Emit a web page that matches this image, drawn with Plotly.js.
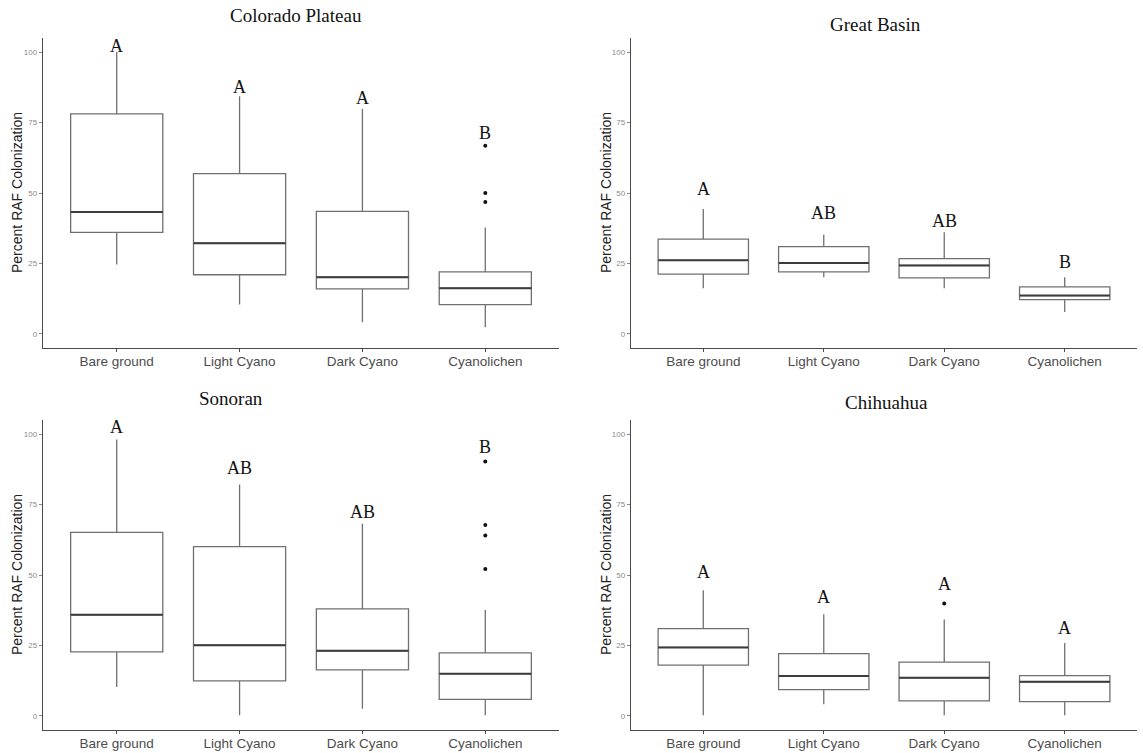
<!DOCTYPE html>
<html>
<head>
<meta charset="utf-8">
<script src="https://cdn.plot.ly/plotly-3.0.1.min.js"></script>
<style>html,body{margin:0;padding:0;background:#fff;}#chart{width:1143px;height:753px;}</style>
</head>
<body>
<div id="chart"></div>
<script>
// ---- data ----
const categories = ["Bare ground", "Light Cyano", "Dark Cyano", "Cyanolichen"];
const panelTitles = ["Colorado Plateau", "Great Basin", "Sonoran", "Chihuahua"];

// Colorado Plateau
const cpLow  = [24.6, 10.4, 4.1, 2.4];
const cpQ1   = [36.0, 21.0, 16.0, 10.4];
const cpMed  = [43.3, 32.2, 20.1, 16.2];
const cpQ3   = [78.1, 56.9, 43.5, 22.0];
const cpHigh = [100.0, 84.3, 79.9, 37.8];
const cpOutX = ["Cyanolichen", "Cyanolichen", "Cyanolichen"];
const cpOutY = [66.8, 50.0, 46.8];
const cpLetters = ["A", "A", "A", "B"];
const cpLetterY = [102.0, 87.5, 83.6, 71.3];

// Great Basin
const gbLow  = [16.2, 20.1, 16.2, 7.8];
const gbQ1   = [21.2, 22.0, 19.9, 12.2];
const gbMed  = [26.1, 25.2, 24.3, 13.6];
const gbQ3   = [33.6, 31.0, 26.7, 16.7];
const gbHigh = [44.3, 35.2, 36.1, 20.1];
const gbOutX = [];
const gbOutY = [];
const gbLetters = ["A", "AB", "AB", "B"];
const gbLetterY = [51.4, 42.9, 40.2, 25.6];

// Sonoran
const soLow  = [10.3, 0.2, 2.5, 0.2];
const soQ1   = [22.7, 12.4, 16.3, 5.9];
const soMed  = [35.9, 25.1, 23.1, 15.0];
const soQ3   = [65.1, 60.1, 38.0, 22.4];
const soHigh = [98.1, 82.1, 68.2, 37.6];
const soOutX = ["Cyanolichen", "Cyanolichen", "Cyanolichen", "Cyanolichen"];
const soOutY = [90.3, 67.7, 64.0, 52.1];
const soLetters = ["A", "AB", "AB", "B"];
const soLetterY = [102.4, 87.9, 72.4, 95.5];

// Chihuahua
const chLow  = [0.2, 4.1, 0.2, 0.2];
const chQ1   = [18.0, 9.3, 5.3, 5.1];
const chMed  = [24.3, 14.2, 13.5, 12.1];
const chQ3   = [31.0, 22.1, 19.1, 14.3];
const chHigh = [44.6, 36.1, 34.2, 25.9];
const chOutX = ["Dark Cyano"];
const chOutY = [39.9];
const chLetters = ["A", "A", "A", "A"];
const chLetterY = [50.9, 42.2, 46.9, 31.2];

const yTickVals = [0, 25, 50, 75, 100];
const yTitle = "Percent RAF Colonization";

// ---- build ----
const panels = [
  {low: cpLow, q1: cpQ1, med: cpMed, q3: cpQ3, high: cpHigh, ox: cpOutX, oy: cpOutY, let: cpLetters, ly: cpLetterY},
  {low: gbLow, q1: gbQ1, med: gbMed, q3: gbQ3, high: gbHigh, ox: gbOutX, oy: gbOutY, let: gbLetters, ly: gbLetterY},
  {low: soLow, q1: soQ1, med: soMed, q3: soQ3, high: soHigh, ox: soOutX, oy: soOutY, let: soLetters, ly: soLetterY},
  {low: chLow, q1: chQ1, med: chMed, q3: chQ3, high: chHigh, ox: chOutX, oy: chOutY, let: chLetters, ly: chLetterY}
];

const W = 1143, H = 753;
const xDomains = [[43/W, 559/W], [631/W, 1137/W], [43/W, 559/W], [631/W, 1137/W]];
const yDomains = [[1-348/H, 1-38/H], [1-348/H, 1-38/H], [1-730/H, 1-420/H], [1-730/H, 1-420/H]];
const titlePos = [[296/W, 1-16/H], [875/W, 1-25/H], [231/W, 1-398/H], [886/W, 1-402/H]];
const yTitlePos = [[17/W, 1-193/H], [606/W, 1-193/H], [17/W, 1-575/H], [606/W, 1-575/H]];

const traces = [];
const annotations = [];
const layout = {
  width: W, height: H,
  margin: {l: 0, r: 0, t: 0, b: 0},
  paper_bgcolor: "#fff", plot_bgcolor: "#fff",
  showlegend: false,
  boxmode: "overlay",
  hovermode: false,
  font: {family: "Liberation Sans, Arial, sans-serif"}
};

panels.forEach((p, i) => {
  const n = i + 1;
  const xa = n === 1 ? "x" : "x" + n;
  const ya = n === 1 ? "y" : "y" + n;
  traces.push({
    type: "box", xaxis: xa, yaxis: ya,
    x: categories, q1: p.q1, median: p.med, q3: p.q3,
    lowerfence: p.low, upperfence: p.high,
    width: 0.75, boxpoints: false,
    fillcolor: "#ffffff",
    line: {color: "#707070", width: 1.3},
    whiskerwidth: 0
  });
  traces.push({
    type: "box", xaxis: xa, yaxis: ya,
    x: categories, q1: p.med, median: p.med, q3: p.med,
    lowerfence: p.med, upperfence: p.med,
    width: 0.75, boxpoints: false,
    fillcolor: "rgba(0,0,0,0)",
    line: {color: "#3c3c3c", width: 2},
    whiskerwidth: 0
  });
  if (p.ox.length) {
    traces.push({
      type: "scatter", mode: "markers", xaxis: xa, yaxis: ya,
      x: p.ox, y: p.oy,
      marker: {color: "#111", size: 4}
    });
  }
  const axKey = n === 1 ? "" : n;
  layout["xaxis" + axKey] = {
    domain: xDomains[i], anchor: ya,
    type: "category", categoryorder: "array", categoryarray: categories,
    range: [-0.6, 3.6],
    showline: true, linecolor: "#4a4a4a", linewidth: 1.2,
    ticks: "outside", ticklen: 3, tickcolor: "#4a4a4a", tickwidth: 1,
    ticklabelstandoff: -2,
    showgrid: false, zeroline: false,
    tickfont: {size: 13.5, color: "#4d4d4d", family: "Liberation Sans, Arial, sans-serif"}
  };
  layout["yaxis" + axKey] = {
    domain: yDomains[i], anchor: xa,
    range: [-5, 105],
    tickvals: yTickVals, ticktext: yTickVals.map(String),
    showline: true, linecolor: "#4a4a4a", linewidth: 1.2,
    ticks: "outside", ticklen: 3, tickcolor: "#8a8a8a", tickwidth: 1,
    showgrid: false, zeroline: false,
    tickfont: {size: 8, color: "#8a8a8a", family: "Liberation Sans, Arial, sans-serif"}
  };
  categories.forEach((c, k) => {
    annotations.push({
      xref: xa, yref: ya, x: c, y: p.ly[k], text: p.let[k],
      showarrow: false, yanchor: "middle", xanchor: "center",
      font: {family: "Liberation Serif, Times New Roman, serif", size: 18, color: "#111"}
    });
  });
  annotations.push({
    xref: "paper", yref: "paper", x: titlePos[i][0], y: titlePos[i][1],
    text: panelTitles[i], showarrow: false, xanchor: "center", yanchor: "middle",
    font: {family: "Liberation Serif, Times New Roman, serif", size: 19, color: "#111"}
  });
  annotations.push({
    xref: "paper", yref: "paper", x: yTitlePos[i][0], y: yTitlePos[i][1],
    text: yTitle, showarrow: false, textangle: -90, xanchor: "center", yanchor: "middle",
    font: {family: "Liberation Sans, Arial, sans-serif", size: 14, color: "#222"}
  });
});
layout.annotations = annotations;

Plotly.newPlot("chart", traces, layout, {staticPlot: true, displayModeBar: false});
</script>
</body>
</html>
